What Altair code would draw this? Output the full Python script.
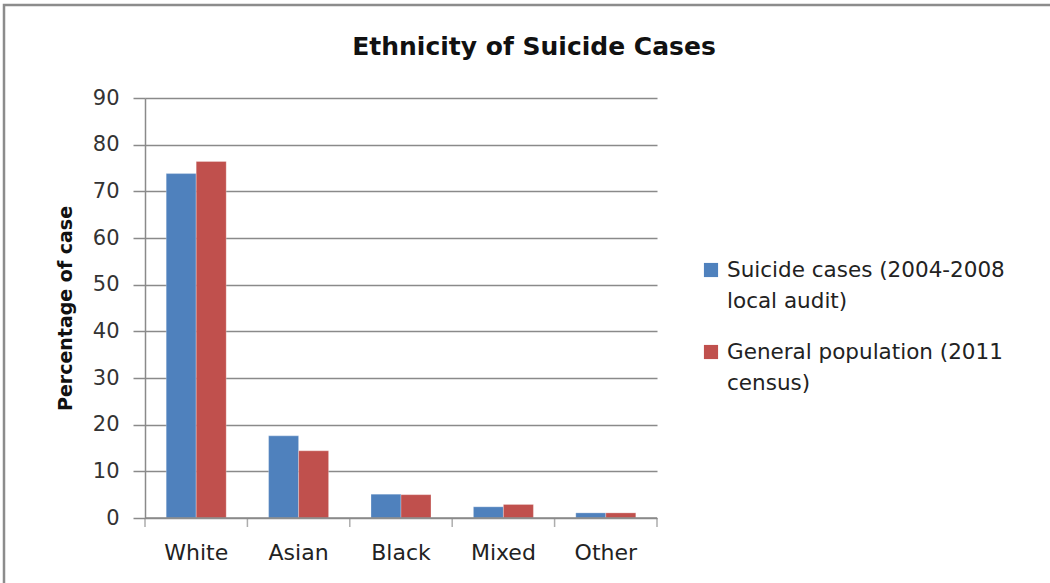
import altair as alt
import pandas as pd

# Share of cases by ethnic group, two comparison series
categories = ["White", "Asian", "Black", "Mixed", "Other"]
series = [
    "Suicide cases (2004-2008 local audit)",
    "General population (2011 census)",
]
legend_lines = [
    ["Suicide cases (2004-2008", "local audit)"],
    ["General population (2011", "census)"],
]
suicide_cases = [73.8, 17.6, 5.1, 2.4, 1.1]
general_population = [76.4, 14.4, 5.0, 2.9, 1.1]
y_ticks = list(range(0, 91, 10))

rows = []
for cat, a, b in zip(categories, suicide_cases, general_population):
    rows.append({"Ethnicity": cat, "Series": series[0], "Value": a})
    rows.append({"Ethnicity": cat, "Series": series[1], "Value": b})
df = pd.DataFrame(rows)
legend_df = pd.DataFrame({"Series": series, "lines": legend_lines})

W, H = 512, 420
GRID = "#8a8a8a"
FONT = "DejaVu Sans"
P_IN = 0.414
STEP = W / len(categories)
GAP = P_IN / 2 * STEP  # distance from a bar group to the category boundary

color = alt.Color(
    "Series:N", sort=series,
    scale=alt.Scale(domain=series, range=["#4F81BD", "#C0504D"]),
    legend=None,
)
x_enc = dict(sort=categories, scale=alt.Scale(paddingInner=P_IN, paddingOuter=P_IN / 2))

bars = alt.Chart(df).mark_bar(stroke="white", strokeOpacity=0.35, strokeWidth=0.8).encode(
    x=alt.X(
        "Ethnicity:N", **x_enc,
        axis=alt.Axis(
            title=None, labelAngle=0, ticks=False, domain=False, grid=False,
            labelFont=FONT, labelFontSize=22, labelColor="#222", labelPadding=24,
        ),
    ),
    xOffset=alt.XOffset("Series:N", sort=series, scale=alt.Scale(paddingInner=0, paddingOuter=0)),
    y=alt.Y(
        "Value:Q",
        scale=alt.Scale(domain=[0, 90]),
        axis=alt.Axis(
            values=y_ticks, title="Percentage of case",
            titleFont=FONT, titleFontSize=19, titleFontWeight="bold", titleColor="#111",
            titleX=-80, titleY=H / 2, titleAngle=-90, titleAlign="center", titleBaseline="middle",
            labelFont=FONT, labelFontSize=21, labelColor="#333", labelPadding=14,
            tickSize=12, tickColor=GRID, tickWidth=1.5,
            domainColor=GRID, domainWidth=1.5,
            gridColor=GRID, gridWidth=1.5,
        ),
    ),
    color=color,
)

# Tick marks on the category boundaries of the x axis
cat_df = pd.DataFrame({"Ethnicity": categories})
left_ticks = alt.Chart(cat_df).mark_tick(
    color=GRID, thickness=1.5, size=9, orient="vertical", xOffset=-GAP
).encode(
    x=alt.X("Ethnicity:N", bandPosition=0, **x_enc),
    y=alt.value(H + 4.5),
)
right_tick = alt.Chart(cat_df.tail(1)).mark_tick(
    color=GRID, thickness=1.5, size=9, orient="vertical", xOffset=GAP
).encode(
    x=alt.X("Ethnicity:N", bandPosition=1, **x_enc),
    y=alt.value(H + 4.5),
)
baseline = alt.Chart().mark_rule(color=GRID, strokeWidth=1.5).encode(
    x=alt.value(0), x2=alt.value(W), y=alt.value(H)
)
frame = alt.Chart().mark_rect(fill=None, stroke="#8c8c8c", strokeWidth=2.5, clip=False).encode(
    x=alt.value(-141), x2=alt.value(1200), y=alt.value(-93), y2=alt.value(700)
)
title = alt.Chart().mark_text(
    text="Ethnicity of Suicide Cases", font=FONT, fontSize=25, fontWeight="bold",
    color="#111", align="center", baseline="middle",
).encode(x=alt.value(389), y=alt.value(-51))

# Legend entries drawn beside the plot
legend_layers = []
for i, s in enumerate(series):
    sub = alt.Chart(legend_df).transform_filter(alt.datum.Series == s)
    legend_layers.append(
        sub.mark_square(size=200, opacity=1).encode(
            x=alt.value(566), y=alt.value(172 + 82 * i), color=color
        )
    )
    legend_layers.append(
        sub.mark_text(
            font=FONT, fontSize=21.5, color="#222", align="left", baseline="middle", lineHeight=31,
        ).encode(x=alt.value(582), y=alt.value(173 + 82 * i), text="lines:N")
    )

chart = alt.layer(frame, bars, left_ticks, right_tick, baseline, title, *legend_layers).properties(
    width=W, height=H,
    padding={"left": 145, "top": 98, "right": 1050 - 145 - W, "bottom": 583 - 98 - H},
    autosize=alt.AutoSizeParams(type="none"),
).configure(background="white").configure_view(strokeOpacity=0)

chart.save("out.html", embed_options={"renderer": "svg", "actions": False})
